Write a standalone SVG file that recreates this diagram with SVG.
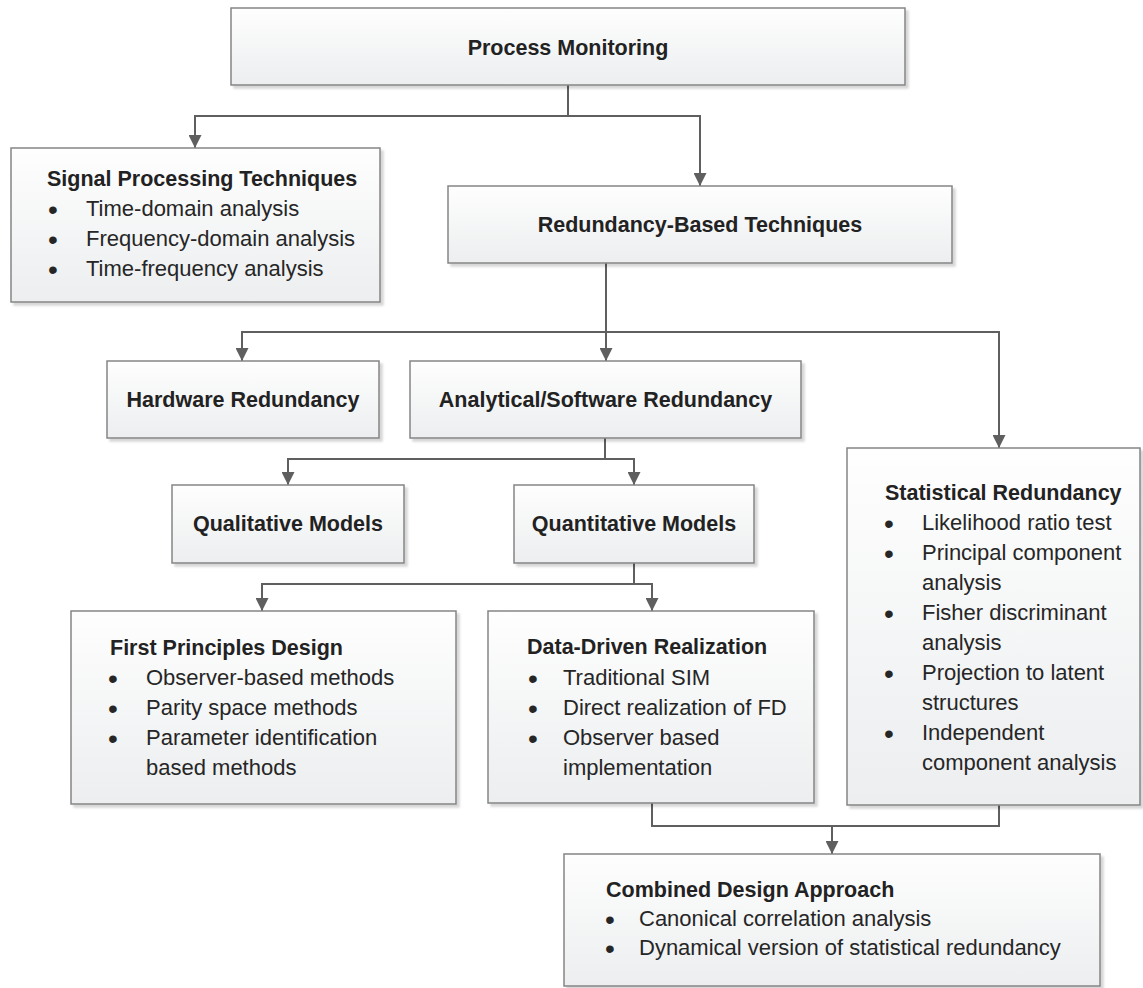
<svg xmlns="http://www.w3.org/2000/svg" width="1143" height="988" viewBox="0 0 1143 988">
  <defs>
    <linearGradient id="boxFill" x1="0" y1="0" x2="0" y2="1">
      <stop offset="0" stop-color="#fefefe"/>
      <stop offset="1" stop-color="#eceeef"/>
    </linearGradient>
    <filter id="shadow" x="-5%" y="-5%" width="115%" height="115%">
      <feDropShadow dx="3" dy="3" stdDeviation="1" flood-color="#000" flood-opacity="0.16"/>
    </filter>
    <marker id="arrow" markerUnits="userSpaceOnUse" markerWidth="13" markerHeight="13" refX="13" refY="6.5" orient="auto" viewBox="0 0 13 13">
      <path d="M0,0 L13,6.5 L0,13 z" fill="#5f5f5f"/>
    </marker>
    <style>
      .box { fill: url(#boxFill); stroke: #858585; stroke-width: 1.5; filter: url(#shadow); }
      .head { font-family: "Liberation Sans", Arial, sans-serif; font-weight: bold; font-size: 21.5px; fill: #222; }
      .ctr { text-anchor: middle; }
      .item { font-family: "Liberation Sans", Arial, sans-serif; font-size: 22px; fill: #262626; }
      .dot { font-family: "Liberation Sans", Arial, sans-serif; font-size: 28px; fill: #262626; text-anchor: middle; }
      .link { fill: none; stroke: #5f5f5f; stroke-width: 2; }
    </style>
  </defs>
  <rect width="1143" height="988" fill="#ffffff"/>

  <!-- connectors -->
  <g id="connectors">
    <path class="link" d="M568,85 V116 H195 V148" marker-end="url(#arrow)"/>
    <path class="link" d="M568,116 H700 V186" marker-end="url(#arrow)"/>
    <path class="link" d="M606,263 V332 H242 V361" marker-end="url(#arrow)"/>
    <path class="link" d="M606,332 V361" marker-end="url(#arrow)"/>
    <path class="link" d="M606,332 H999 V448" marker-end="url(#arrow)"/>
    <path class="link" d="M605,438 V459 H288 V485" marker-end="url(#arrow)"/>
    <path class="link" d="M605,459 H634 V485" marker-end="url(#arrow)"/>
    <path class="link" d="M634,563 V584 H262 V611" marker-end="url(#arrow)"/>
    <path class="link" d="M634,584 H652 V611" marker-end="url(#arrow)"/>
    <path class="link" d="M652,803 V826 H832 V854" marker-end="url(#arrow)"/>
    <path class="link" d="M999,805 V826 H832"/>
  </g>

  <g id="process-monitoring">
    <rect class="box" x="231" y="8" width="674" height="77"/>
    <text class="head ctr" x="568" y="55">Process Monitoring</text>
  </g>

  <g id="signal-processing">
    <rect class="box" x="11" y="148" width="369" height="154"/>
    <text class="head" x="47" y="186">Signal Processing Techniques</text>
    <text class="dot" x="53" y="219">•</text>
    <text class="item" x="86" y="216">Time-domain analysis</text>
    <text class="dot" x="53" y="249">•</text>
    <text class="item" x="86" y="246">Frequency-domain analysis</text>
    <text class="dot" x="53" y="279">•</text>
    <text class="item" x="86" y="276">Time-frequency analysis</text>
  </g>

  <g id="redundancy-based">
    <rect class="box" x="448" y="186" width="504" height="77"/>
    <text class="head ctr" x="700" y="232">Redundancy-Based Techniques</text>
  </g>

  <g id="hardware-redundancy">
    <rect class="box" x="107" y="361" width="272" height="77"/>
    <text class="head ctr" x="243" y="407">Hardware Redundancy</text>
  </g>

  <g id="analytical-redundancy">
    <rect class="box" x="410" y="361" width="391" height="77"/>
    <text class="head ctr" x="605.5" y="407">Analytical/Software Redundancy</text>
  </g>

  <g id="qualitative-models">
    <rect class="box" x="172" y="485" width="232" height="78"/>
    <text class="head ctr" x="288" y="531">Qualitative Models</text>
  </g>

  <g id="quantitative-models">
    <rect class="box" x="514" y="485" width="240" height="78"/>
    <text class="head ctr" x="634" y="531">Quantitative Models</text>
  </g>

  <g id="statistical-redundancy">
    <rect class="box" x="847" y="448" width="293" height="357"/>
    <text class="head" x="885" y="500">Statistical Redundancy</text>
    <text class="dot" x="889" y="533">•</text>
    <text class="item" x="922" y="530">Likelihood ratio test</text>
    <text class="dot" x="889" y="563">•</text>
    <text class="item" x="922" y="560">Principal component</text>
    <text class="item" x="922" y="590">analysis</text>
    <text class="dot" x="889" y="623">•</text>
    <text class="item" x="922" y="620">Fisher discriminant</text>
    <text class="item" x="922" y="650">analysis</text>
    <text class="dot" x="889" y="683">•</text>
    <text class="item" x="922" y="680">Projection to latent</text>
    <text class="item" x="922" y="710">structures</text>
    <text class="dot" x="889" y="743">•</text>
    <text class="item" x="922" y="740">Independent</text>
    <text class="item" x="922" y="770">component analysis</text>
  </g>

  <g id="first-principles">
    <rect class="box" x="71" y="611" width="385" height="193"/>
    <text class="head" x="110" y="655">First Principles Design</text>
    <text class="dot" x="113" y="688">•</text>
    <text class="item" x="146" y="685">Observer-based methods</text>
    <text class="dot" x="113" y="718">•</text>
    <text class="item" x="146" y="715">Parity space methods</text>
    <text class="dot" x="113" y="748">•</text>
    <text class="item" x="146" y="745">Parameter identification</text>
    <text class="item" x="146" y="775">based methods</text>
  </g>

  <g id="data-driven">
    <rect class="box" x="488" y="611" width="326" height="192"/>
    <text class="head" x="527" y="654">Data-Driven Realization</text>
    <text class="dot" x="533" y="688">•</text>
    <text class="item" x="563" y="685">Traditional SIM</text>
    <text class="dot" x="533" y="718">•</text>
    <text class="item" x="563" y="715">Direct realization of FD</text>
    <text class="dot" x="533" y="748">•</text>
    <text class="item" x="563" y="745">Observer based</text>
    <text class="item" x="563" y="775">implementation</text>
  </g>

  <g id="combined-design">
    <rect class="box" x="564" y="854" width="536" height="132"/>
    <text class="head" x="606" y="897">Combined Design Approach</text>
    <text class="dot" x="610" y="929">•</text>
    <text class="item" x="639" y="926">Canonical correlation analysis</text>
    <text class="dot" x="610" y="958">•</text>
    <text class="item" x="639" y="955">Dynamical version of statistical redundancy</text>
  </g>
</svg>
